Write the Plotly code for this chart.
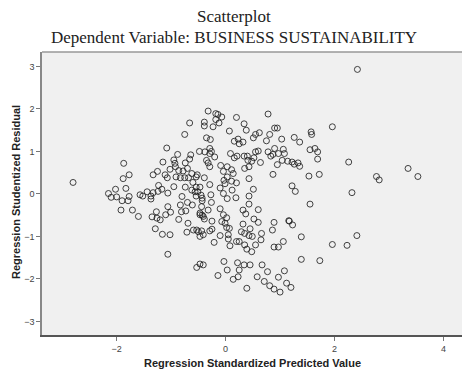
import plotly.graph_objects as go

# Regression Standardized Predicted Value (x) and Studentized Residual (y)
pred = [
    2.42, 1.96, 2.26, 2.77, 2.82, 3.35, 3.53, 2.32, 2.41, 1.96, 2.23,
    -2.80,
    -0.66, -0.75, -1.08, -0.88, -0.64, -0.48, -1.87, -1.15, -0.95, -0.93,
    -0.74, -0.66, -1.88, -1.77, -1.33, -1.25, -1.11, -1.07, -1.02, -0.92,
    -0.86, -0.91, -0.83, -0.75, -0.78, -0.70, -0.62, -0.54, -0.68, -0.52,
    -0.60, -0.54, -1.23, -1.17, -0.95, -0.74, -0.62, -1.83, -2.02, -2.15,
    -2.10, -2.00, -1.77, -1.57, -1.52, -1.44, -1.37, -1.33, -1.24, -1.06,
    -0.80, -0.54,
    -1.90, -1.79, -1.92, -1.71, -1.60, -1.37, -1.35, -1.27, -1.26, -1.20,
    -1.10, -1.06, -1.01, -1.29, -1.16, -1.02, -1.06, -0.86, -0.81, -0.83,
    -0.73, -0.70, -0.61, -0.69, -0.71, -0.59, -0.50, -0.47, -0.47, -0.53,
    -0.47,
    -0.32, -0.18, -0.14, -0.07, -0.18, -0.12, -0.39, -0.39, -0.23, 0.20,
    0.34, 0.38, 0.07, 0.78, 0.90, 0.95, 0.81, 0.62, 0.55, 0.51,
    0.75, 1.03, 1.26, 1.36, 1.57, 1.58, -0.35, -0.28, 0.16, 0.23,
    0.25, 0.32, -0.38, -0.29, -0.26, -0.29, -0.20, -0.35, -0.32, -0.29,
    0.09, 0.16, 0.21, 0.34, 0.40, 0.41, 0.48, 0.55, 0.60, 0.52,
    0.64, 0.78, 0.83, 0.87, 0.90, 0.97, 1.06, 1.08, 1.04, 1.14,
    0.95, 1.22, 1.26, 1.33, 1.36, 1.55, 1.64, 1.69, 1.69, 1.53,
    1.72, 1.22, 1.28, 0.87, -0.09, 0.03, -0.04, 0.11, 0.14, 0.03,
    -0.03, 0.11, 0.20, 0.35, 0.43, 0.43, 0.51, 0.43, 0.19, 0.03,
    -0.04, -0.10, -0.01, 0.12, -0.29, -0.39, -0.47, -0.45, -0.27, -0.51,
    -0.43, -0.44, -0.47, -0.41, -0.39, -0.32, -0.26, -0.10, 0.43, 0.32,
    0.37, 0.60, 0.52, 0.60, 0.32, 0.89, 1.17, 1.23, 1.55, -0.04,
    0.02, -0.01, 0.02, 0.07, -0.07, -0.25, -0.53, -0.44, -0.41, -0.29,
    -0.25, -0.10, -0.21, 0.05, 0.05, 0.08, 0.29, 0.35, 0.45, 0.49,
    0.43, 0.20, 0.35, 0.39, 0.48, 0.55, 0.66, 0.65, 0.86, 0.89,
    0.97, 1.06, 1.39, 1.39, 1.73, -0.14, -0.03, 0.03, 0.14, 0.23,
    0.25, 0.22, 0.34, 0.45, 0.39, 0.58, 0.67, 0.71, 0.77, 0.81,
    0.89, 0.97, 1.00, 1.08, 1.12, 1.20,
    -0.43, -0.43, -0.56, 0.25, -0.41, 1.16,
]
resid = [
    2.93, 1.58, 0.75, 0.41, 0.33, 0.60, 0.41, 0.03, -0.98, -1.19, -1.21,
    0.27,
    1.67, 1.40, 1.08, 0.93, 0.92, 1.00, 0.72, 0.75, 0.80, 0.72,
    0.73, 0.82, 0.36, 0.45, 0.45, 0.53, 0.45, 0.38, 0.58, 0.64,
    0.55, 0.40, 0.38, 0.38, 0.54, 0.60, 0.48, 0.40, 0.38, 0.45,
    0.27, 0.16, 0.20, 0.11, 0.17, 0.16, 0.09, 0.13, 0.11, 0.01,
    -0.08, -0.07, -0.06, -0.02, -0.05, 0.05, -0.05, 0.03, 0.06, 0.02,
    -0.06, -0.05,
    -0.16, -0.16, -0.38, -0.38, -0.53, -0.12, -0.54, -0.42, -0.57, -0.61,
    -0.49, -0.30, -0.43, -0.82, -0.95, -0.96, -1.42, -0.60, -0.42, -0.26,
    -0.40, -0.20, -0.26, -0.69, -0.90, -0.85, -0.89, -1.00, -0.49, -1.73,
    -1.65,
    1.95, 1.89, 1.87, 1.81, 1.75, 1.67, 1.69, 1.60, 1.58, 1.80,
    1.65, 1.50, 1.48, 1.88, 1.55, 1.55, 1.40, 1.44, 1.40, 1.32,
    1.25, 1.29, 1.33, 1.22, 1.46, 1.40, 1.32, 1.28, 1.24, 1.29,
    1.18, 1.22, 0.99, 1.07, 1.00, 0.95, 0.87, 0.79, 0.73, 0.64,
    0.95, 0.85, 0.89, 0.89, 0.89, 0.79, 0.77, 0.99, 1.01, 0.85,
    0.74, 0.99, 0.89, 0.93, 1.07, 0.95, 1.05, 0.95, 0.79, 0.77,
    0.69, 0.75, 0.70, 0.73, 0.65, 1.04, 1.07, 0.99, 0.82, 0.42,
    0.46, 0.19, 0.06, 0.46, 0.67, 0.64, 0.53, 0.57, 0.48, 0.40,
    0.32, 0.30, 0.26, 0.60, 0.64, 0.36, 0.11, -0.05, -0.09, -0.11,
    0.01, 0.14, 0.24, 0.09, 0.22, 0.38, 0.16, -0.03, -0.02, 0.05,
    -0.16, -0.30, -0.45, -0.53, -0.59, -0.38, -0.20, -0.35, -0.24, -0.38,
    -0.47, -0.37, -0.59, -0.67, -0.71, -0.67, -0.64, -0.73, -0.24, -0.49,
    -0.56, -0.69, -0.79, -0.81, -0.65, -0.64, -0.85, -0.87, -0.96, -0.87,
    -0.83, -0.98, -1.14, -0.96, -1.06, -1.22, -0.89, -0.93, -0.82, -1.00,
    -0.98, -1.12, -1.20, -1.30, -1.36, -1.20, -0.93, -1.08, -0.85, -1.25,
    -1.25, -1.12, -1.01, -1.54, -1.57, -1.92, -1.59, -1.79, -2.01, -1.95,
    -1.79, -1.62, -1.67, -1.67, -2.22, -1.95, -1.67, -2.06, -1.83, -2.16,
    -2.24, -1.96, -2.31, -1.81, -2.10, -2.20,
    -0.50, -0.10, 0.05, -1.12, -1.67, -0.63,
]

x_ticks = [-2, 0, 2, 4]
y_ticks = [-3, -2, -1, 0, 1, 2, 3]

title_line1 = "Scatterplot"
title_line2 = "Dependent Variable: BUSINESS SUSTAINABILITY"
x_title = "Regression Standardized Predicted Value"
y_title = "Regression Studentized Residual"

fig = go.Figure()
fig.add_trace(go.Scatter(
    x=pred, y=resid, mode="markers",
    marker=dict(symbol="circle-open", size=6, color="rgba(35,35,35,0.85)",
                line=dict(width=1)),
    hoverinfo="skip", showlegend=False,
))

fig.update_layout(
    width=462, height=371,
    margin=dict(l=42, r=0, t=52, b=36),
    paper_bgcolor="white",
    plot_bgcolor="#F0F0F0",
    font=dict(family="Liberation Sans, Arial", size=9, color="#333"),
    xaxis=dict(
        range=[-3.37, 4.34], tickvals=x_ticks, ticks="outside", ticklen=4,
        tickcolor="#777", showgrid=False, zeroline=False,
        showline=True, linecolor="#555", linewidth=1.5, mirror=False,
        tickfont=dict(size=9, color="#444"),
    ),
    yaxis=dict(
        range=[-3.32, 3.34], tickvals=y_ticks, ticks="outside", ticklen=4,
        tickcolor="#777", showgrid=False, zeroline=False,
        showline=True, linecolor="#888", linewidth=1.5, mirror=False,
        tickfont=dict(size=9, color="#444"),
    ),
    shapes=[dict(type="line", xref="paper", yref="paper", x0=0, x1=1, y0=1, y1=1,
                 line=dict(color="#999", width=1.5))],
    annotations=[
        dict(text=title_line1, xref="paper", yref="paper", x=0.457, y=1.124,
             xanchor="center", yanchor="middle", showarrow=False,
             font=dict(family="Liberation Serif, Times New Roman", size=17, color="#222")),
        dict(text=title_line2, xref="paper", yref="paper", x=0.458, y=1.0495,
             xanchor="center", yanchor="middle", showarrow=False,
             font=dict(family="Liberation Serif, Times New Roman", size=17, color="#222")),
        dict(text="<b>" + y_title + "</b>", xref="paper", yref="paper", x=-0.062, y=0.505,
             xanchor="center", yanchor="middle", textangle=-90, showarrow=False,
             font=dict(family="Liberation Sans, Arial", size=11, color="#222")),
        dict(text="<b>" + x_title + "</b>", xref="paper", yref="paper", x=0.502, y=-0.099,
             xanchor="center", yanchor="middle", showarrow=False,
             font=dict(family="Liberation Sans, Arial", size=11, color="#222")),
    ],
)

fig.write_html("out.html", config={"displayModeBar": False},
               post_script="document.body.style.margin='0';document.body.style.overflow='hidden';")
